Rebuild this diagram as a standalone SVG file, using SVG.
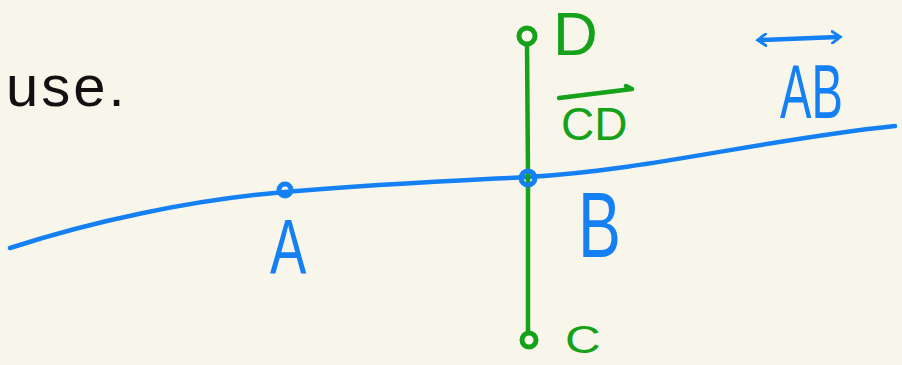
<svg xmlns="http://www.w3.org/2000/svg" width="902" height="365" viewBox="0 0 902 365">
<defs>
<style>
.bg{fill:#f8f6eb}
.blue{stroke:#1480f4;fill:none;stroke-width:4.5;stroke-linecap:round;stroke-linejoin:round}
.green{stroke:#15a11a;fill:none;stroke-width:4.5;stroke-linecap:round;stroke-linejoin:round}
.pt{stroke-width:5}
.t{font-family:"Liberation Sans",Arial,sans-serif}
.tb{fill:#1480f4}
.tg{fill:#15a11a}
.tk{fill:#111111}
</style>
<marker id="ah" viewBox="0 0 12 12" refX="6" refY="6" markerWidth="14" markerHeight="14" markerUnits="userSpaceOnUse" orient="auto-start-reverse">
<path d="M1,1 L8,6 L1,11" fill="none" stroke="#1480f4" stroke-width="2.5" stroke-linecap="round"/>
</marker>
</defs>
<rect class="bg" x="0" y="0" width="902" height="365"/>
<text class="t tk" x="6" y="106" font-size="58" letter-spacing="3">use.</text>
<g id="connectors">
<path class="blue" d="M10,248 C90,222 190,200 285,192 C380,184 450,181 528,177 C650,170 760,140 895,126"/>
<path class="green" d="M527,44 L528,175 L528,333"/>
</g>
<g id="node-A">
<circle class="blue pt" cx="285" cy="190" r="6"/>
<text class="t tb" transform="translate(270,274) scale(0.7,1)" font-size="78">A</text>
</g>
<g id="node-B">
<circle class="blue pt" cx="528" cy="178" r="7"/>
<text class="t tb" transform="translate(578,257) scale(0.7,1)" font-size="92">B</text>
</g>
<g id="node-C">
<circle class="green pt" cx="529" cy="340" r="7"/>
<text class="t tg" transform="translate(565,353) scale(1.3,1)" font-size="38">C</text>
</g>
<g id="node-D">
<circle class="green pt" cx="527" cy="36" r="8"/>
<text class="t tg" x="553" y="55" font-size="62">D</text>
</g>
<g id="label-CD">
<path class="green" d="M559,98 L632,89 L626,86"/>
<text class="t tg" x="561" y="140" font-size="46">CD</text>
</g>
<g id="label-AB">
<path class="blue" d="M760,40 L838,37" marker-start="url(#ah)" marker-end="url(#ah)"/>
<text class="t tb" transform="translate(780,118) scale(0.62,1)" font-size="76">AB</text>
</g>
</svg>
